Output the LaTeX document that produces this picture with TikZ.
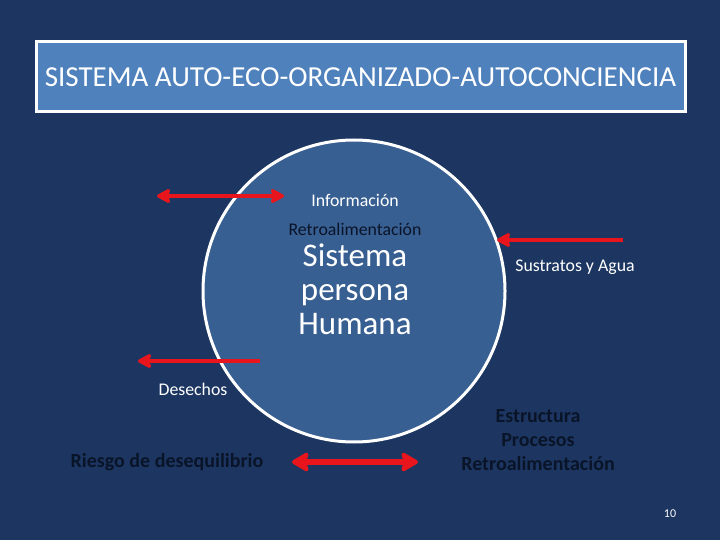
\documentclass[tikz,border=0pt]{standalone}
\usepackage{fontspec}
\setmainfont{Carlito}
\usetikzlibrary{arrows.meta}
\definecolor{bgnavy}{HTML}{1C3661}
\definecolor{circblue}{HTML}{385F92}
\definecolor{titleblue}{HTML}{4F81BD}
\definecolor{arrred}{HTML}{E8161C}
\definecolor{darktxt}{HTML}{0A1428}
\tikzset{
  tipA/.tip={Stealth[length=16pt,width=17pt,inset=3pt,round]},
  tipB/.tip={Stealth[length=20pt,width=23pt,inset=4pt,round]},
  redarrow/.style={draw=arrred, line width=4.5pt, -tipA},
  reddouble/.style={draw=arrred, line width=4.5pt, tipA-tipA},
  bigdouble/.style={draw=arrred, line width=6pt, tipB-tipB},
  lbl/.style={inner sep=0pt, font=\fontsize{17.8}{21}\selectfont, text=white},
  dlbl/.style={inner sep=0pt, font=\fontsize{20}{24}\selectfont\bfseries, text=darktxt, align=center},
}
\begin{document}
\begin{tikzpicture}[x=1pt,y=-1pt]
\fill[bgnavy] (0,0) rectangle (720,540);
\useasboundingbox (0,0) rectangle (720,540);
% title
\node[draw=white, line width=3pt, fill=titleblue, minimum width=649pt, minimum height=70pt, inner sep=0pt,
  text=white, font=\fontsize{29}{34}\selectfont] (title) at (360.5,77) {SISTEMA AUTO-ECO-ORGANIZADO-AUTOCONCIENCIA};
% circle
\node[circle, draw=white, line width=3pt, fill=circblue, minimum size=302pt, inner sep=0pt] (sys) at (354,291) {};
\node[lbl, font=\fontsize{33}{34}\selectfont, align=center] (sph) at (355,289) {Sistema\\persona\\Humana};
\node[lbl] (info) at (355,200) {Información};
\node[lbl, text=darktxt] (retro) at (355,229) {Retroalimentación};
\node[lbl] (sust) at (575,267) {Sustratos y Agua};
\node[lbl] (des) at (193,389) {Desechos};
\node[dlbl] (riesgo) at (167,462) {Riesgo de desequilibrio};
\node[dlbl] (epr) at (538,440) {Estructura\\Procesos\\Retroalimentación};
\node[lbl, font=\fontsize{12}{14}\selectfont] (num) at (670,514) {10};
% arrows
\coordinate (a1l) at (157,196); \coordinate (a1r) at (284,196);
\coordinate (a2s) at (623,240); \coordinate (a2e) at (497,240);
\coordinate (a3s) at (260,361); \coordinate (a3e) at (138,361);
\coordinate (a4l) at (292,462); \coordinate (a4r) at (418,462);
\draw[reddouble] (a1l) -- (a1r);
\draw[redarrow] (a2s) -- (a2e);
\draw[redarrow] (a3s) -- (a3e);
\draw[bigdouble] (a4l) -- (a4r);
\end{tikzpicture}
\end{document}
